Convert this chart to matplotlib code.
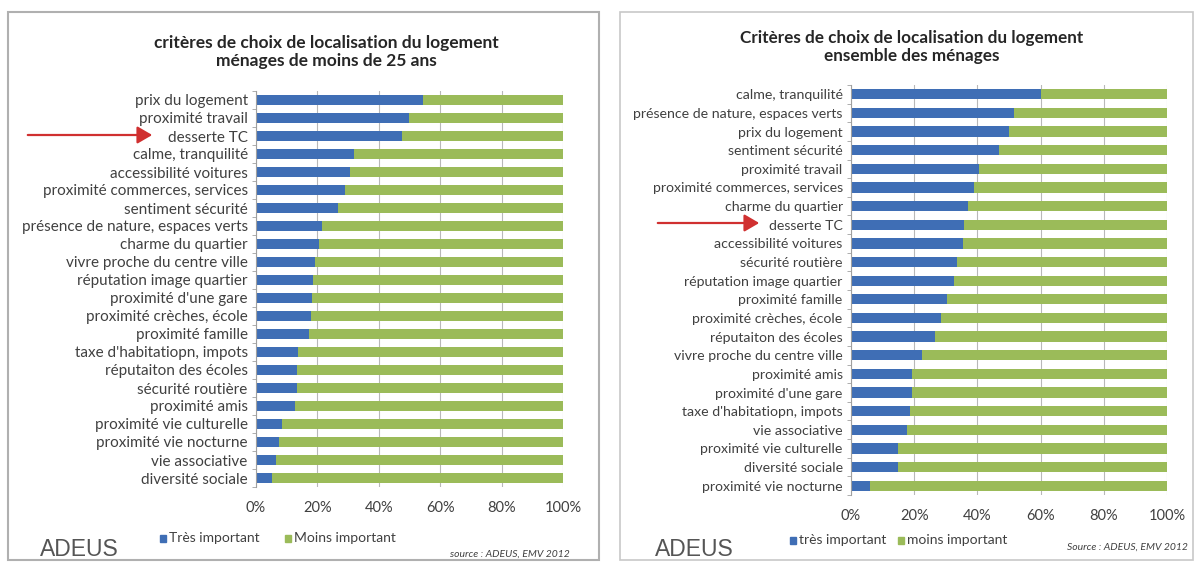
import numpy as np
import matplotlib as mpl
import matplotlib.pyplot as plt
from matplotlib.patches import Rectangle

plt.rcParams['font.family'] = ['Lato', 'DejaVu Sans']

# ----------------------------------------------------------------
# données (part "très important", en %)

labels_jeunes = ["prix du logement", "proximité travail", "desserte TC",
                 "calme, tranquilité", "accessibilité voitures",
                 "proximité commerces, services", "sentiment sécurité",
                 "présence de nature, espaces verts", "charme du quartier",
                 "vivre proche du centre ville", "réputation image quartier",
                 "proximité d'une gare", "proximité crèches, école",
                 "proximité famille", "taxe d'habitatiopn, impots",
                 "réputaiton des écoles", "sécurité routière", "proximité amis",
                 "proximité vie culturelle", "proximité vie nocturne",
                 "vie associative", "diversité sociale"]
tres_jeunes = [54.3, 49.7, 47.7, 31.9, 30.7, 29.1, 26.6, 21.6, 20.4, 19.1, 18.6,
               18.3, 17.8, 17.4, 13.7, 13.2, 13.2, 12.8, 8.4, 7.5, 6.5, 5.3]

labels_ensemble = ["calme, tranquilité", "présence de nature, espaces verts",
                   "prix du logement", "sentiment sécurité", "proximité travail",
                   "proximité commerces, services", "charme du quartier",
                   "desserte TC", "accessibilité voitures", "sécurité routière",
                   "réputation image quartier", "proximité famille",
                   "proximité crèches, école", "réputaiton des écoles",
                   "vivre proche du centre ville", "proximité amis",
                   "proximité d'une gare", "taxe d'habitatiopn, impots",
                   "vie associative", "proximité vie culturelle",
                   "diversité sociale", "proximité vie nocturne"]
tres_ensemble = [60.2, 51.5, 49.9, 46.7, 40.4, 38.9, 37.1, 35.9, 35.5, 33.5, 32.5,
                 30.4, 28.4, 26.5, 22.4, 19.4, 19.4, 18.7, 17.7, 15.0, 15.0, 6.0]

ticks_x = [0, 20, 40, 60, 80, 100]

# ----------------------------------------------------------------

W, H = 1196, 563
bleu = "#3F6EB5"
vert = "#9BBB59"
gris_txt = "#404040"

fig = plt.figure(figsize=(W / 100, H / 100), dpi=100)


def px_axes(x0, y_top, w, h):
    return fig.add_axes([x0 / W, (H - y_top - h) / H, w / W, h / H])


def fx(x):
    return x / W


def fy(y):
    return (H - y) / H


def trace(ax, labels, tres, taille):
    y = np.arange(len(labels))
    moins = 100 - np.array(tres)
    ax.barh(y, tres, height=0.55, color=bleu, zorder=2)
    ax.barh(y, moins, left=tres, height=0.55, color=vert, zorder=2)
    ax.set_xlim(0, 100)
    ax.set_ylim(len(labels) - 0.5, -0.5)
    ax.set_yticks(y)
    ax.set_yticklabels(labels, fontsize=taille, color=gris_txt)
    ax.set_yticks(np.arange(len(labels) + 1) - 0.5, minor=True)
    ax.tick_params(axis='y', which='major', length=0, pad=6)
    ax.tick_params(axis='y', which='minor', length=3, color="#A0A0A0")
    ax.set_xticks(ticks_x)
    ax.set_xticklabels([f"{t}%" for t in ticks_x], fontsize=10.5, color=gris_txt)
    ax.tick_params(axis='x', length=0, pad=10)
    ax.grid(axis='x', color="#B8B8B8", linewidth=0.8, zorder=0)
    ax.set_axisbelow(True)
    for s in ["top", "right", "bottom"]:
        ax.spines[s].set_visible(False)
    ax.spines["left"].set_color("#A0A0A0")


# cadres des deux panneaux
fig.patches.append(Rectangle((fx(8), fy(560)), fx(591), (560 - 12) / H,
                             transform=fig.transFigure, fill=False,
                             edgecolor="#B0B0B0", linewidth=1.5))
fig.patches.append(Rectangle((fx(620), fy(560)), fx(573), (560 - 12) / H,
                             transform=fig.transFigure, fill=False,
                             edgecolor="#C8C8C8", linewidth=1.2))

# panneau gauche
ax1 = px_axes(256, 91, 307, 396)
trace(ax1, labels_jeunes, tres_jeunes, 11)
fig.text(fx(326), fy(52), "critères de choix de localisation du logement\n"
         "ménages de moins de 25 ans", ha="center", va="center",
         fontsize=12.5, fontweight="bold", color="#262626", linespacing=1.2)

# panneau droit
ax2 = px_axes(851, 85, 316, 410)
trace(ax2, labels_ensemble, tres_ensemble, 10.2)
fig.text(fx(912), fy(47), "Critères de choix de localisation du logement\n"
         "ensemble des ménages", ha="center", va="center",
         fontsize=12.3, fontweight="bold", color="#262626", linespacing=1.2)

# flèches rouges vers "desserte TC"
for (xa, xb, yy) in [(25, 155, 135), (655, 762, 223)]:
    fig.add_artist(mpl.patches.FancyArrowPatch(
        (fx(xa), fy(yy)), (fx(xb), fy(yy)), transform=fig.transFigure,
        arrowstyle="-|>,head_length=6,head_width=3.5", color="#D03030",
        linewidth=1.6, mutation_scale=1.5))

# légendes
for (xl, lab, col) in [(160, "Très important", bleu), (285, "Moins important", vert),
                       (790, "très important", bleu), (898, "moins important", vert)]:
    yl = 538 if xl < 600 else 540
    fig.patches.append(Rectangle((fx(xl), fy(yl + 4)), fx(6), 7 / H,
                                 transform=fig.transFigure, color=col))
    fig.text(fx(xl + 9), fy(yl), lab, ha="left", va="center",
             fontsize=10, color=gris_txt)

# logos et sources
fig.text(fx(40), fy(550), "ADEUS", ha="left", va="center", fontsize=16.5,
         color="#555555", family=["Liberation Sans", "DejaVu Sans"])
fig.text(fx(655), fy(549), "ADEUS", ha="left", va="center", fontsize=16.5,
         color="#555555", family=["Liberation Sans", "DejaVu Sans"])
fig.text(fx(570), fy(554), "source : ADEUS, EMV 2012", ha="right", va="center",
         fontsize=7.5, style="italic", color=gris_txt)
fig.text(fx(1188), fy(547), "Source : ADEUS, EMV 2012", ha="right", va="center",
         fontsize=7.5, style="italic", color=gris_txt)

fig.savefig("out.png", dpi=100)
